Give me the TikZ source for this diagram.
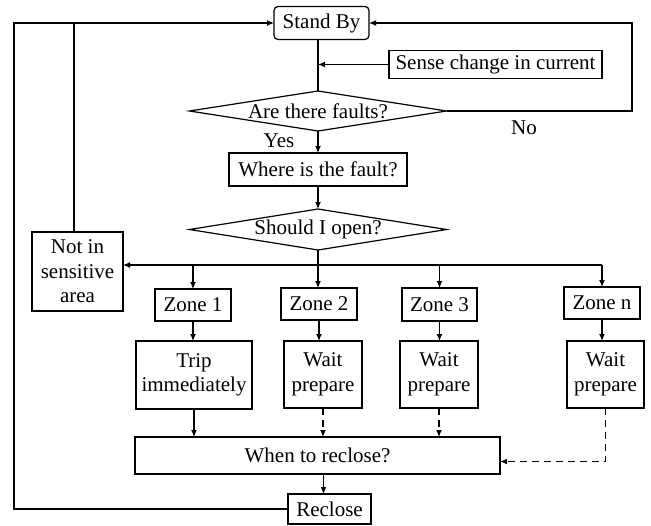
\documentclass[tikz,border=0pt]{standalone}
\usepackage{fontspec}
\setmainfont{Liberation Serif}
\usetikzlibrary{arrows.meta,shapes.geometric}

\begin{document}
\begin{tikzpicture}[x=0.5pt,y=-0.5pt,
  line width=0.6pt,
  every node/.style={font=\fontsize{10.5}{12.3}\selectfont},
  box/.style={draw, rectangle, inner sep=0pt, outer sep=0pt, align=center},
  dia/.style={draw, diamond, inner sep=0pt, outer sep=0pt},
  arr/.style={-{Latex[length=3.5pt,width=3pt]}},
  dashline/.style={dash pattern=on 3.5pt off 2.5pt}]
\useasboundingbox (0,0) rectangle (651,525);

% boxes of the flow
\node[box, rounded corners=2pt, minimum width=47.5pt, minimum height=16.5pt] (standby) at (321.5,23) {Stand By};
\node[box, minimum width=106.5pt, minimum height=14pt] (sense) at (495.5,64.5) {Sense change in current};
\node[dia, minimum width=128.5pt, minimum height=20pt] (faults) at (318,111) {};
\node (faultsT) at (faults) {Are there faults?};
\node[box, minimum width=89pt, minimum height=16.5pt] (where) at (318,169.5) {Where is the fault?};
\node[dia, minimum width=128.5pt, minimum height=20.5pt] (should) at (318,229.5) {};
\node (shouldT) at (should) {Should I open?};
\node[box, minimum width=45.5pt, minimum height=39.5pt] (notin) at (77.5,271.5) {Not in\\sensitive\\area};

\node[box, minimum width=38pt, minimum height=16pt] (zone1) at (193,305) {Zone 1};
\node[box, minimum width=38pt, minimum height=16pt] (zone2) at (319,304) {Zone 2};
\node[box, minimum width=37.5pt, minimum height=16.5pt] (zone3) at (439.5,304.5) {Zone 3};
\node[box, minimum width=38pt, minimum height=16pt] (zonen) at (602,303) {Zone n};

\node[box, minimum width=58pt, minimum height=34pt] (trip) at (194,375) {Trip\\immediately};
\node[box, minimum width=39pt, minimum height=33.5pt] (wait2) at (323,374.5) {Wait\\prepare};
\node[box, minimum width=39pt, minimum height=33.5pt] (wait3) at (439,374.5) {Wait\\prepare};
\node[box, minimum width=38.5pt, minimum height=33.5pt] (waitn) at (605.5,374.5) {Wait\\prepare};

\node[box, minimum width=182.5pt, minimum height=18.5pt] (when) at (317.5,455.5) {When to reclose?};
\node[box, minimum width=41.5pt, minimum height=15pt] (reclose) at (329.5,509) {Reclose};

% branch labels
\node (yes) at (279,141) {Yes};
\node (no) at (524,128) {No};

% corner points of the loops
\coordinate (lt) at (14,23);
\coordinate (j74) at (74,23);
\coordinate (rt) at (632,23);
\coordinate (br) at (318,265);

% loops back to Stand By
\draw[arr] (reclose.west) -| (lt) -- (standby.west);
\draw (notin.north -| j74) -- (j74);
\draw[arr] (faults.east) -| (rt) -- (standby.east);

% main axis
\draw (standby.south -| faults.north) -- (faults.north);
\draw[arr] (sense.west) -- (sense.west -| faults.north);
\draw[arr] (faults.south) -- (faults.south |- where.north);
\draw[arr] (where.south -| should.north) -- (should.north);
\draw (should.south) -- (br);

% branch to the zones
\draw[arr] (br -| zonen.north) -- (notin.east |- br);
\draw[arr] (br -| zone1.north) -- (zone1.north);
\draw[arr] (br) -- (br |- zone2.north);
\draw[arr] (br -| zone3.north) -- (zone3.north);
\draw[arr] (br -| zonen.north) -- (zonen.north);

% zones to actions
\draw[arr] (zone1.south) -- (zone1.south |- trip.north);
\draw[arr] (zone2.south) -- (zone2.south |- wait2.north);
\draw[arr] (zone3.south) -- (zone3.south |- wait3.north);
\draw[arr] (zonen.south) -- (zonen.south |- waitn.north);

% actions to reclosing decision
\draw[arr] (trip.south) -- (trip.south |- when.north);
\draw[arr, dashline] (wait2.south) -- (wait2.south |- when.north);
\draw[arr, dashline] (wait3.south) -- (wait3.south |- when.north);
\draw[arr, dashline] (waitn.south) |- ([yshift=-3pt]when.east);
\draw[arr] ([xshift=-3pt]reclose.north |- when.south) -- ([xshift=-3pt]reclose.north);
\end{tikzpicture}
\end{document}
